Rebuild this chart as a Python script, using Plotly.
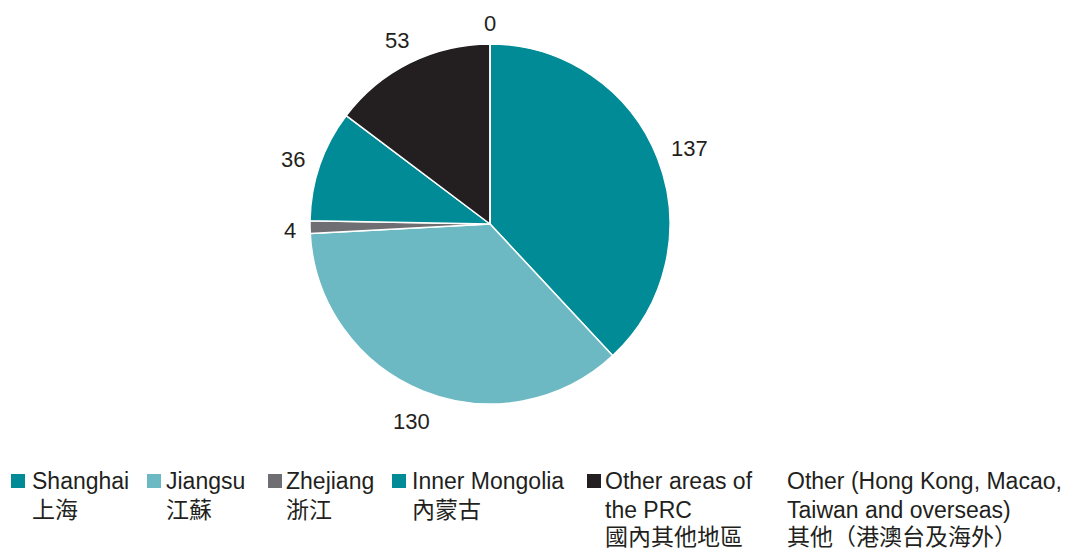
import math
import plotly.graph_objects as go

W, H = 1068, 549

# data
labels_en = ["Shanghai", "Jiangsu", "Zhejiang", "Inner Mongolia",
             "Other areas of<br>the PRC", "Other (Hong Kong, Macao,<br>Taiwan and overseas)"]
labels_zh = ["上海", "江蘇", "浙江", "內蒙古", "國內其他地區", "其他（港澳台及海外）"]
values = [137, 130, 4, 36, 53, 0]

colors = ["#008B96", "#6CB9C3", "#6F6E72", "#008B96", "#231F20", "#FFFFFF"]

FONT = "Liberation Sans, Arial, Noto Sans CJK TC, sans-serif"
TXT = "#231F20"
FS = 22

# pie placement in pixels
CX, CY, R = 490, 224, 180


def px_x(x):
    return x / W


def px_y(y):
    return 1 - y / H


fig = go.Figure()
fig.add_trace(
    go.Pie(
        labels=[e.replace("<br>", " ") for e in labels_en],
        values=values,
        sort=False,
        direction="clockwise",
        rotation=0,
        marker=dict(colors=colors, line=dict(color="white", width=1.5)),
        textinfo="none",
        showlegend=False,
        domain=dict(x=[px_x(CX - R), px_x(CX + R)], y=[px_y(CY + R), px_y(CY - R)]),
        hoverinfo="label+value",
    )
)

# value labels outside each slice, placed from the slice mid angle
total = sum(values)
cum = 0
for v in values:
    mid = (cum + v / 2) / total * 2 * math.pi
    cum += v
    dx, dy = math.sin(mid), -math.cos(mid)
    tw = len(str(v)) * FS * 0.556
    th = FS * 0.9
    dist = R + 14 + abs(dx) * tw / 2 + abs(dy) * th / 2
    fig.add_annotation(
        xref="paper", yref="paper",
        x=px_x(CX + dx * dist), y=px_y(CY + dy * dist + 3),
        xanchor="center", yanchor="middle",
        text=str(v),
        showarrow=False,
        font=dict(size=FS, color=TXT, family=FONT),
    )

# legend at the bottom
swatch_x = [11, 147, 268, 392, 587, None]
text_x = [30, 164, 284, 410, 603, 785]
line_y = [481, 510, 537]
for i, (en, zh) in enumerate(zip(labels_en, labels_zh)):
    if swatch_x[i] is not None and colors[i] != "#FFFFFF":
        fig.add_shape(
            type="rect",
            xref="paper", yref="paper",
            x0=px_x(swatch_x[i]), x1=px_x(swatch_x[i] + 14),
            y0=px_y(488), y1=px_y(474),
            fillcolor=colors[i],
            line_width=0,
        )
    lines = en.split("<br>") + [zh]
    for k, ln in enumerate(lines):
        fig.add_annotation(
            xref="paper", yref="paper",
            x=px_x(text_x[i]), y=px_y(line_y[k]),
            xanchor="left", yanchor="middle",
            align="left",
            text=ln,
            showarrow=False,
            font=dict(size=23, color=TXT, family=FONT),
        )

fig.update_layout(
    width=W,
    height=H,
    margin=dict(l=0, r=0, t=0, b=0),
    paper_bgcolor="white",
    plot_bgcolor="white",
    font=dict(family=FONT, color=TXT),
)

fig.write_html(
    "out.html",
    config={"displayModeBar": False},
    post_script="document.body.style.margin='0';",
)
